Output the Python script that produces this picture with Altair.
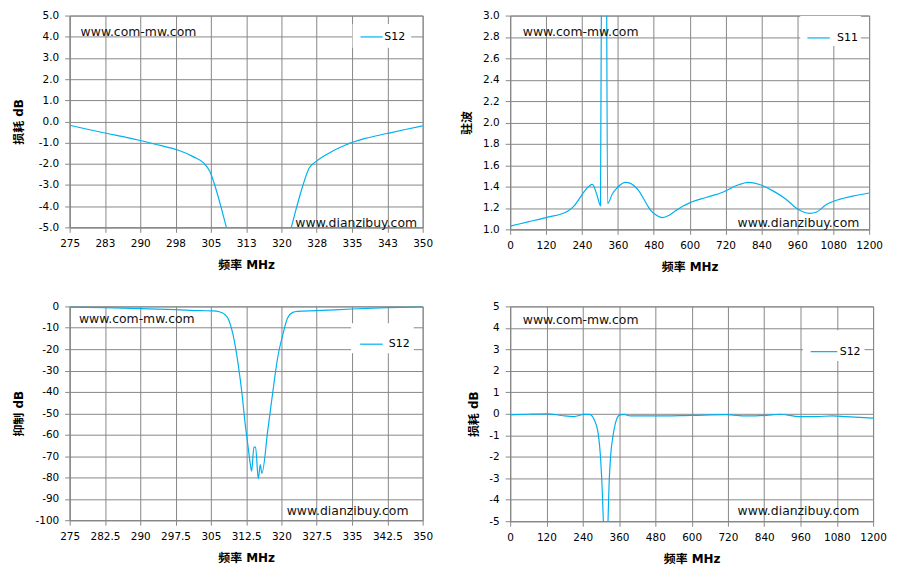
import altair as alt
import pandas as pd

BLUE = "#00B0F0"
GRID = "#878787"
FONT = "DejaVu Sans"
CJK = "DejaVu Sans, Noto Sans CJK SC"
WM1 = "www.com-mw.com"
WM2 = "www.dianzibuy.com"
XTITLE = "频率 MHz"

# ---------------- Panel 1: 损耗 dB (275-350 MHz zoom) ----------------
P1_A_F = [275, 279, 283, 287, 290, 294, 298, 301.2, 303.5, 304.8, 306.0, 307.2, 308.3]
P1_A_V = [-0.18, -0.38, -0.57, -0.75, -0.9, -1.12, -1.35, -1.66, -1.97, -2.36, -3.13, -4.07, -5.0]
P1_B_F = [322.1, 323.3, 324.5, 325.9, 326.9, 329.4, 333.6, 337.8, 342.4, 346.3, 350]
P1_B_V = [-5.0, -3.99, -3.06, -2.2, -1.97, -1.58, -1.11, -0.8, -0.57, -0.38, -0.21]
P1_XTICKS = [275, 282.5, 290, 297.5, 305, 312.5, 320, 327.5, 335, 342.5, 350]
P1_YTICKS = [-5, -4, -3, -2, -1, 0, 1, 2, 3, 4, 5]

# ---------------- Panel 2: 驻波 (0-1200 MHz) ----------------
P2_A_F = [0, 60, 120, 192, 214, 241.7, 258.3, 274.9, 289.2, 302.0, 304.8]
P2_A_V = [1.03, 1.07, 1.11, 1.17, 1.22, 1.33, 1.39, 1.42, 1.33, 1.22, 3.0]
P2_B_F = [322.8, 325.8, 341.4, 358, 385.6, 402, 430, 457.7, 469, 490, 510, 530, 546,
          579.5, 601.7, 657, 712.5, 757, 795.6, 834, 878.7, 923, 956, 1000.6, 1022.7,
          1056, 1100, 1144.6, 1200]
P2_B_V = [3.0, 1.24, 1.33, 1.39, 1.44, 1.43, 1.36, 1.23, 1.18, 1.13, 1.11, 1.13, 1.16,
          1.22, 1.25, 1.30, 1.35, 1.41, 1.44, 1.42, 1.36, 1.28, 1.20, 1.15, 1.16,
          1.23, 1.28, 1.31, 1.34]
P2_XTICKS = [0, 120, 240, 360, 480, 600, 720, 840, 960, 1080, 1200]
P2_YTICKS = [1.0, 1.2, 1.4, 1.6, 1.8, 2.0, 2.2, 2.4, 2.6, 2.8, 3.0]

# ---------------- Panel 3: 抑制 dB (275-350 MHz) ----------------
P3_F = [275, 282.5, 290, 297.5, 302.7, 305.5, 306.8, 307.8, 308.6, 309.7, 310.8, 311.7,
        312.2, 312.9, 313.4, 313.66, 314.15, 314.5, 315.08, 315.5, 315.84, 317.1,
        318.2, 319.2, 320.3, 321.3, 322.4, 323.4, 327.3, 335, 342.5, 350]
P3_V = [-0.3, -0.6, -1.0, -1.5, -2.0, -2.1, -2.5, -3.5, -5.4, -13.1, -27, -42.4,
        -53.2, -65.5, -74, -77.1, -65.8, -65.8, -80.6, -74, -78.1, -57.9,
        -39.4, -23.9, -13.1, -5.4, -2.8, -2.3, -2.0, -1.2, -0.6, -0.2]
P3_XTICKS = P1_XTICKS
P3_YTICKS = [-100, -90, -80, -70, -60, -50, -40, -30, -20, -10, 0]

# ---------------- Panel 4: 损耗 dB (0-1200 MHz) ----------------
P4_A_F = [0, 60, 124, 170, 211, 244, 262, 277.5, 290.6, 299.2, 304.8, 308.1]
P4_A_V = [-0.05, -0.02, 0.0, -0.08, -0.13, -0.03, -0.03, -0.26, -0.88, -2.13, -3.68, -5.0]
P4_B_F = [323.5, 326.8, 332.1, 339.9, 348.5, 361.6, 376, 397.8, 474.5, 600.5, 715.6,
          781, 847, 891, 956.7, 1011, 1066, 1110, 1200]
P4_B_V = [-5.0, -3.37, -1.97, -1.04, -0.41, -0.06, -0.03, -0.1, -0.1, -0.07, -0.04,
          -0.1, -0.07, -0.02, -0.13, -0.13, -0.1, -0.13, -0.2]
P4_XTICKS = P2_XTICKS
P4_YTICKS = [-5, -4, -3, -2, -1, 0, 1, 2, 3, 4, 5]


def line_df(segments, name):
    rows = []
    for i, (fs, vs) in enumerate(segments):
        for f, v in zip(fs, vs):
            rows.append({"f": f, "v": v, "seg": i, "series": name})
    return pd.DataFrame(rows)


def panel(df, xdom, xticks, xlabel_expr, ydom, yticks, yfmt, ytitle, ytpad,
          w, h, leg, wm):
    line = alt.Chart(df).mark_line(
        clip=True, interpolate="monotone", strokeWidth=1.2
    ).encode(
        x=alt.X("f:Q",
                scale=alt.Scale(domain=xdom, nice=False, zero=False),
                axis=alt.Axis(values=xticks, labelExpr=xlabel_expr, title=XTITLE,
                              labelFlush=False, labelOverlap=False, titlePadding=11)),
        y=alt.Y("v:Q",
                scale=alt.Scale(domain=ydom, nice=False, zero=False),
                axis=alt.Axis(values=yticks, labelExpr=yfmt, title=ytitle,
                              labelOverlap=False, titlePadding=ytpad)),
        color=alt.Color("series:N", scale=alt.Scale(range=[BLUE]),
                        legend=alt.Legend(
                            title=None, orient="none",
                            legendX=leg["x"], legendY=leg["y"],
                            fillColor="white", padding=leg["pad"],
                            symbolType=leg["path"], symbolSize=leg["size"],
                            symbolStrokeWidth=1.2,
                            labelOffset={"expr": str(leg["lo"])},
                            labelFont=FONT, labelFontSize=11, labelColor="#000")),
        detail="seg:N",
    )
    t1 = alt.Chart(pd.DataFrame({"t": [WM1]})).mark_text(
        align="left", baseline="middle", font=FONT, fontSize=12.5, color="#111"
    ).encode(x=alt.value(wm[0]), y=alt.value(wm[1]), text="t:N")
    t2 = alt.Chart(pd.DataFrame({"t": [WM2]})).mark_text(
        align="left", baseline="middle", font=FONT, fontSize=12.5, color="#111"
    ).encode(x=alt.value(wm[2]), y=alt.value(wm[3]), text="t:N")
    return alt.layer(line, t1, t2).properties(width=w, height=h)


F1 = "replace(format(datum.value, '.1f'), '\u2212', '-')"
FD = "replace(format(datum.value, 'd'), '\u2212', '-')"

p1 = panel(line_df([(P1_A_F, P1_A_V), (P1_B_F, P1_B_V)], "S12"),
           [275, 350], P1_XTICKS, "format(round(datum.value), 'd')",
           [-5, 5], P1_YTICKS, F1, "损耗 dB", 13, 355, 213,
           {"x": 284.5, "y": 8.5, "pad": 6, "path": "M-0.83,0H2.88", "size": 144, "lo": 12},
           (11, 16.5, 227, 208.2))
p2 = panel(line_df([(P2_A_F, P2_A_V), (P2_B_F, P2_B_V)], "S11"),
           [0, 1200], P2_XTICKS, "format(datum.value, 'd')",
           [1.0, 3.0], P2_YTICKS, F1, "驻波", 9, 361, 215,
           {"x": 291.7, "y": 0.5, "pad": 3, "path": "M-0.82,0H0.43", "size": 1296, "lo": -4},
           (12.7, 16.5, 228.7, 208.2))
p3 = panel(line_df([(P3_F, P3_V)], "S12"),
           [275, 350], P3_XTICKS, "format(datum.value, '.1~f')",
           [-100, 0], P3_YTICKS, FD, "抑制 dB", 10, 355, 215,
           {"x": 283, "y": 17, "pad": 4, "path": "M-0.74,0H0.68", "size": 1024, "lo": 0},
           (9.3, 13, 218.3, 205.7))
p4 = panel(line_df([(P4_A_F, P4_A_V), (P4_B_F, P4_B_V)], "S12"),
           [0, 1200], P4_XTICKS, "format(datum.value, 'd')",
           [-5, 5], P4_YTICKS, FD, "损耗 dB", 8, 365, 216,
           {"x": 294.4, "y": 24, "pad": 4, "path": "M-0.83,0H0.79", "size": 1089, "lo": -2},
           (12.7, 14, 228.7, 205.7))

chart = alt.concat(
    p1, p2, p3, p4, columns=2, bounds="flush",
    spacing={"row": 77.5, "column": 88}
).resolve_scale(
    color="independent"
).resolve_legend(color="independent").properties(
    padding={"left": 3, "top": 0, "right": 5, "bottom": 5}
).configure(
    font=FONT
).configure_view(
    stroke=GRID, strokeWidth=1
).configure_axis(
    grid=True, gridColor=GRID, gridWidth=1, gridOpacity=1,
    domainColor=GRID, domainWidth=1, tickColor=GRID, tickSize=5, tickWidth=1,
    labelFont=FONT, labelFontSize=10.5, labelColor="#000", labelPadding=6,
    titleFont=CJK, titleFontSize=12, titleFontWeight="bold", titleColor="#000"
)

chart.save("out.html", embed_options={"renderer": "svg", "actions": False})
